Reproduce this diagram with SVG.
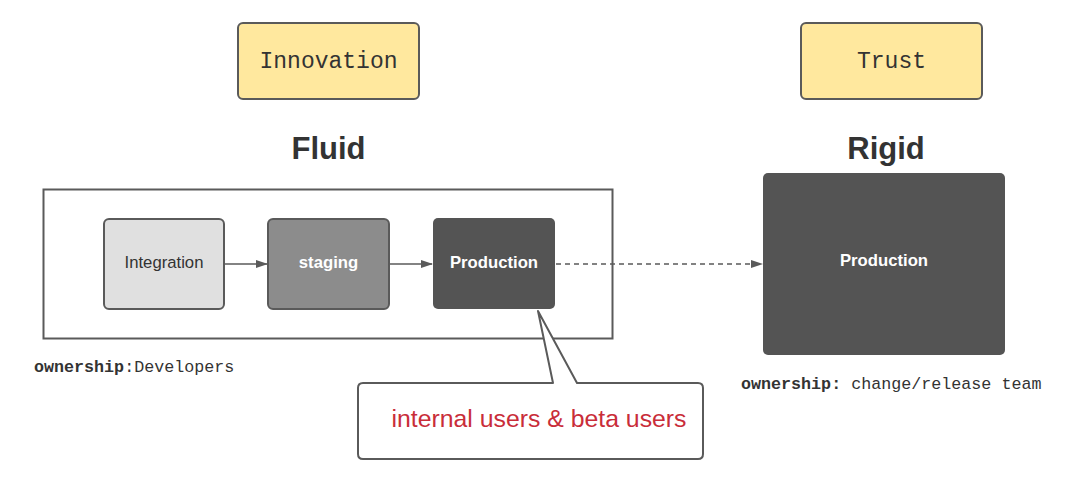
<svg xmlns="http://www.w3.org/2000/svg" width="1091" height="484" viewBox="0 0 1091 484">
<defs>
<style>
.note{fill:#ffe89e;stroke:#5a5a5a;stroke-width:2}
.mono{font-family:"Liberation Mono","DejaVu Sans Mono",monospace;fill:#333}
.title{font-family:"Liberation Sans",Arial,sans-serif;font-weight:bold;font-size:31px;fill:#333;text-anchor:middle}
.lbl{font-family:"Liberation Sans",Arial,sans-serif;font-size:16.7px;text-anchor:middle}
.conn{stroke:#5a5a5a;stroke-width:1.5;fill:none}
</style>
<marker id="ah" markerWidth="12" markerHeight="10" refX="11" refY="5" orient="auto" markerUnits="userSpaceOnUse">
<path d="M0,1 L12,5 L0,9 Z" fill="#5a5a5a"/>
</marker>
</defs>
<rect width="1091" height="484" fill="#fff"/>

<g id="innovation">
<rect class="note" x="238" y="23" width="181" height="76" rx="5"/>
<text class="mono" x="328.5" y="68" font-size="23" text-anchor="middle">Innovation</text>
</g>
<g id="trust">
<rect class="note" x="801" y="23" width="181" height="76" rx="5"/>
<text class="mono" x="891.5" y="68" font-size="23" text-anchor="middle">Trust</text>
</g>

<g id="fluid-title"><text class="title" x="328.5" y="159">Fluid</text></g>
<g id="rigid-title"><text class="title" x="886" y="159">Rigid</text></g>

<g id="fluid-container">
<rect x="43.5" y="189.5" width="569" height="149" fill="none" stroke="#5a5a5a" stroke-width="2"/>
</g>

<g id="integration">
<rect x="104" y="219" width="120" height="90" rx="5" fill="#e0e0e0" stroke="#5a5a5a" stroke-width="2"/>
<text class="lbl" x="164" y="268" fill="#333">Integration</text>
</g>
<g id="staging">
<rect x="268" y="219" width="121" height="90" rx="5" fill="#8c8c8c" stroke="#5a5a5a" stroke-width="2"/>
<text class="lbl" x="328.5" y="268" fill="#fff" font-weight="bold">staging</text>
</g>
<g id="production-fluid">
<rect x="433" y="218" width="122" height="91" rx="5" fill="#545454"/>
<text class="lbl" x="494" y="268" fill="#fff" font-weight="bold">Production</text>
</g>

<g id="production-rigid">
<rect x="763" y="173" width="242" height="182" rx="5" fill="#545454"/>
<text class="lbl" x="884" y="266" fill="#fff" font-weight="bold">Production</text>
</g>

<g id="connectors">
<line class="conn" x1="225" y1="264" x2="267" y2="264" marker-end="url(#ah)"/>
<line class="conn" x1="390" y1="264" x2="432" y2="264" marker-end="url(#ah)"/>
<line class="conn" x1="556" y1="264" x2="762" y2="264" stroke-dasharray="5,4" marker-end="url(#ah)"/>
</g>

<g id="callout">
<path d="M363,383 L553,383 L538,311 L577,383 L698,383 Q703,383 703,388 L703,454 Q703,459 698,459 L363,459 Q358,459 358,454 L358,388 Q358,383 363,383 Z" fill="#fff" stroke="#5a5a5a" stroke-width="2" stroke-linejoin="round"/>
<text x="539" y="427" font-family="'Liberation Sans',Arial,sans-serif" font-size="24.8" fill="#c92d39" text-anchor="middle">internal users &amp; beta users</text>
</g>

<g id="ownership-fluid">
<text class="mono" x="34" y="372" font-size="16.7"><tspan font-weight="bold">ownership</tspan>:Developers</text>
</g>
<g id="ownership-rigid">
<text class="mono" x="741" y="389" font-size="16.7"><tspan font-weight="bold">ownership:</tspan> change/release team</text>
</g>
</svg>
